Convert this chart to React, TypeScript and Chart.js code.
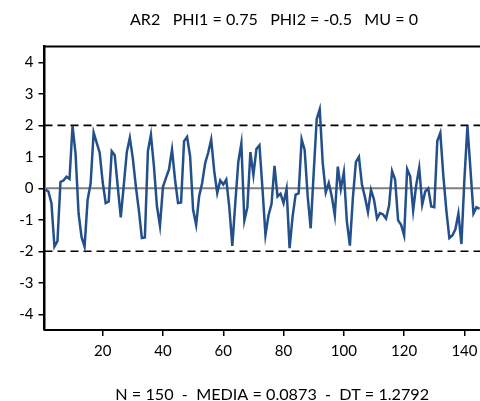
import React, { useEffect, useRef } from 'react';
import { Chart, registerables } from 'chart.js';

Chart.register(...registerables);

const titleText = 'AR2   PHI1 = 0.75   PHI2 = -0.5   MU = 0';
const footerText = 'N = 150  -  MEDIA = 0.0873  -  DT = 1.2792';

// Simulated AR(2) observations, t = 1..145 (visible part of the chart)
const seriesValues = [
  -0.04, -0.1, -0.47, -1.85, -1.68, 0.2, 0.25, 0.37, 0.3, 1.98,
  1.1, -0.8, -1.55, -1.85, -0.37, 0.15, 1.77, 1.45, 1.13, 0.2,
  -0.47, -0.42, 1.18, 1.05, 0.05, -0.92, 0.1, 1.15, 1.6, 0.95,
  0.06, -0.7, -1.58, -1.56, 1.18, 1.7, 0.7, -0.57, -1.19, 0.05,
  0.33, 0.6, 1.23, 0.28, -0.47, -0.45, 1.5, 1.63, 1.02, -0.68,
  -1.16, -0.25, 0.17, 0.8, 1.13, 1.55, 0.55, -0.15, 0.25, 0.12,
  0.28, -0.6, -1.83, -0.45, 0.85, 1.43, -1.02, -0.6, 1.15, 0.42,
  1.25, 1.37, 0.0, -1.48, -0.86, -0.5, 0.71, -0.26, -0.17, -0.47,
  -0.02, -1.9, -0.9, -0.2, -0.16, 1.56, 1.22, -0.25, -1.27, 0.5,
  2.2, 2.51, 0.8, -0.13, 0.17, -0.26, -0.86, 0.69, -0.02, 0.51,
  -1.05, -1.82, -0.3, 0.84, 1.0, 0.12, -0.28, -0.75, -0.05, -0.36,
  -0.96, -0.79, -0.83, -0.96, -0.55, 0.55, 0.28, -1.02, -1.16, -1.5,
  0.61, 0.38, -0.7, 0.1, 0.65, -0.52, -0.1, 0.0, -0.58, -0.6,
  1.5, 1.76, 0.4, -0.7, -1.58, -1.5, -1.3, -0.8, -1.77, 0.3,
  1.98, 0.6, -0.8, -0.6, -0.65,
];

const xTickValues = [20, 40, 60, 80, 100, 120, 140];
const yTickValues = [-4, -3, -2, -1, 0, 1, 2, 3, 4];
const bandLevels = [2, -2];
const zeroLevel = 0;
const xRange = [0.7, 151.8];
const yRange = [-4.5, 4.5];

const FONT = 'Lato, "Open Sans", sans-serif';

export default function App() {
  const ref = useRef<HTMLCanvasElement>(null);

  useEffect(() => {
    if (!ref.current) return;
    const points = seriesValues.map((y, i) => ({ x: i + 1, y }));
    const hline = (level: number) => [
      { x: xRange[0], y: level },
      { x: xRange[1], y: level },
    ];

    const frameTop = {
      id: 'frameTop',
      afterDraw(chart: any) {
        const { ctx, chartArea } = chart;
        ctx.save();
        ctx.strokeStyle = '#000';
        ctx.lineWidth = 2;
        ctx.beginPath();
        ctx.moveTo(chartArea.left - 1, chartArea.top);
        ctx.lineTo(chartArea.right, chartArea.top);
        ctx.stroke();
        ctx.restore();
      },
    };

    const chart = new Chart(ref.current, {
      type: 'line',
      data: {
        datasets: [
          {
            data: points,
            borderColor: '#23508B',
            borderWidth: 2.5,
            pointRadius: 0,
            tension: 0,
          },
          {
            data: hline(zeroLevel),
            borderColor: '#808080',
            borderWidth: 2,
            pointRadius: 0,
          },
          ...bandLevels.map((l) => ({
            data: hline(l),
            borderColor: '#000',
            borderWidth: 1.6,
            borderDash: [8, 5],
            pointRadius: 0,
          })),
        ],
      },
      options: {
        animation: false,
        responsive: false,
        devicePixelRatio: 1,
        layout: { padding: 0 },
        plugins: {
          legend: { display: false },
          tooltip: { enabled: false },
          title: {
            display: true,
            text: titleText,
            color: '#000',
            font: { family: FONT, size: 16.1, weight: 'normal' },
            padding: { top: 10.5, bottom: 16.8 },
          },
        },
        scales: {
          x: {
            type: 'linear',
            min: xRange[0],
            max: xRange[1],
            afterBuildTicks: (s: any) => {
              s.ticks = xTickValues.map((v) => ({ value: v }));
            },
            afterFit: (s: any) => {
              s.height = 71;
            },
            grid: {
              drawOnChartArea: false,
              drawTicks: true,
              tickLength: 6,
              color: '#000',
              lineWidth: 1.5,
            },
            border: { display: true, color: '#000', width: 2 },
            ticks: {
              color: '#000',
              padding: 6,
              maxRotation: 0,
              autoSkip: false,
              font: { family: FONT, size: 15 },
              callback: (v: any) => String(v),
            },
            title: {
              display: true,
              text: footerText,
              color: '#000',
              font: { family: FONT, size: 16.2 },
              padding: { top: 20, bottom: -3 },
            },
          },
          y: {
            min: yRange[0],
            max: yRange[1],
            afterBuildTicks: (s: any) => {
              s.ticks = yTickValues.map((v) => ({ value: v }));
            },
            afterFit: (s: any) => {
              s.width = 44.5;
            },
            grid: {
              drawOnChartArea: false,
              drawTicks: true,
              tickLength: 6,
              color: '#000',
              lineWidth: 1.5,
            },
            border: { display: true, color: '#000', width: 2.5 },
            ticks: {
              color: '#000',
              padding: 5,
              autoSkip: false,
              font: { family: FONT, size: 15 },
              callback: (v: any) => String(v),
            },
          },
          ySpacer: {
            position: 'right',
            display: true,
            min: yRange[0],
            max: yRange[1],
            afterFit: (s: any) => {
              s.width = 48;
            },
            grid: { display: false, drawTicks: false },
            border: { display: false },
            ticks: { display: false },
          },
        },
      },
      plugins: [frameTop],
    });
    return () => chart.destroy();
  }, []);

  return (
    <div
      style={{
        position: 'fixed',
        left: 0,
        top: 0,
        width: 480,
        height: 401,
        overflow: 'hidden',
        background: '#fff',
      }}
    >
      <canvas ref={ref} width={548} height={401} style={{ display: 'block' }} />
    </div>
  );
}
